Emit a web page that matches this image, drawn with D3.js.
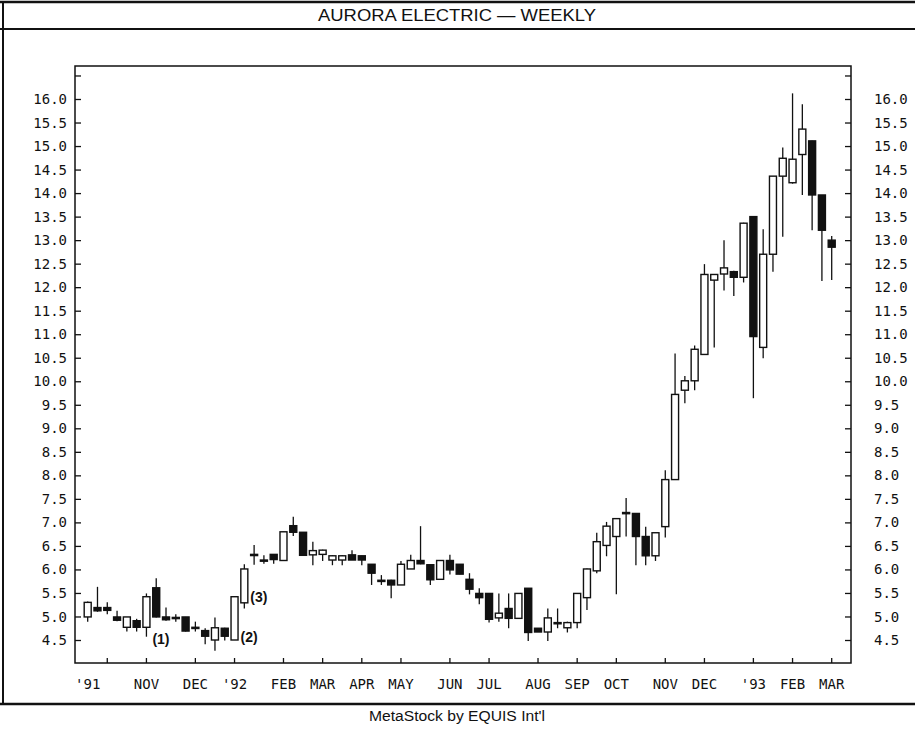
<!DOCTYPE html>
<html>
<head>
<meta charset="utf-8">
<script src="https://cdn.jsdelivr.net/npm/d3@7"></script>
<style>
  html, body { margin: 0; padding: 0; background: #fff; }
  svg { display: block; }
</style>
</head>
<body>
<svg id="chart" width="915" height="730"></svg>
<script>
// ---- DATA ----
const weeks = [
  "1991-09-20","1991-09-27","1991-10-04","1991-10-11","1991-10-18","1991-10-25",
  "1991-11-01","1991-11-08","1991-11-15","1991-11-22","1991-11-29",
  "1991-12-06","1991-12-13","1991-12-20","1991-12-27",
  "1992-01-03","1992-01-10","1992-01-17","1992-01-24","1992-01-31",
  "1992-02-07","1992-02-14","1992-02-21","1992-02-28",
  "1992-03-06","1992-03-13","1992-03-20","1992-03-27",
  "1992-04-03","1992-04-10","1992-04-17","1992-04-24",
  "1992-05-01","1992-05-08","1992-05-15","1992-05-22","1992-05-29",
  "1992-06-05","1992-06-12","1992-06-19","1992-06-26",
  "1992-07-03","1992-07-10","1992-07-17","1992-07-24","1992-07-31",
  "1992-08-07","1992-08-14","1992-08-21","1992-08-28",
  "1992-09-04","1992-09-11","1992-09-18","1992-09-25",
  "1992-10-02","1992-10-09","1992-10-16","1992-10-23","1992-10-30",
  "1992-11-06","1992-11-13","1992-11-20","1992-11-27",
  "1992-12-04","1992-12-11","1992-12-18","1992-12-24","1992-12-31",
  "1993-01-08","1993-01-15","1993-01-22","1993-01-29",
  "1993-02-05","1993-02-12","1993-02-19","1993-02-26",
  "1993-03-05"
];
const open = [
  4.99,5.19,5.19,4.99,4.77,4.91,4.77,5.61,4.99,4.98,4.99,4.77,4.70,4.50,4.75,
  4.50,5.29,6.32,6.20,6.32,6.19,6.93,6.79,6.31,6.32,6.20,6.20,6.31,6.29,6.11,
  5.77,5.77,5.67,6.01,6.19,6.10,5.79,6.19,6.11,5.79,5.49,5.49,4.97,5.17,4.96,
  5.60,4.75,4.67,4.87,4.76,4.87,5.40,5.97,6.51,6.70,7.20,7.19,6.70,6.29,6.91,
  7.91,9.81,10.01,10.57,12.15,12.28,12.33,12.21,13.50,10.72,12.70,14.36,14.22,14.82,15.11,
  13.96,13.00
];
const high = [
  5.32,5.63,5.30,5.12,4.99,4.95,5.49,5.81,5.19,5.05,4.99,4.89,4.75,4.98,4.76,
  5.42,6.11,6.52,6.30,6.32,6.80,7.12,6.79,6.59,6.42,6.30,6.30,6.41,6.29,6.11,
  5.88,5.78,6.18,6.31,6.92,6.10,6.19,6.31,6.11,5.92,5.60,5.49,5.49,5.49,5.49,
  5.60,4.75,5.17,5.17,4.89,5.49,6.02,6.78,7.01,7.09,7.52,7.19,6.91,6.78,8.11,
  10.59,10.11,10.76,12.49,12.28,13.00,12.35,13.37,13.51,13.23,14.36,14.97,16.12,15.89,15.11,
  13.96,13.09
];
const low = [
  4.89,5.10,5.05,4.90,4.68,4.68,4.57,4.98,4.91,4.89,4.68,4.68,4.41,4.27,4.49,
  4.50,5.17,6.10,6.12,6.12,6.19,6.71,6.30,6.09,6.18,6.09,6.09,6.20,6.09,5.67,
  5.67,5.39,5.67,6.01,6.11,5.67,5.79,5.89,5.90,5.47,5.26,4.87,4.89,4.75,4.96,
  4.48,4.67,4.48,4.75,4.66,4.75,5.14,5.92,6.28,5.47,6.70,6.09,6.09,6.18,6.68,
  7.91,9.53,9.81,10.57,10.72,11.93,11.81,12.10,9.64,10.49,12.33,13.07,14.20,13.96,13.21,
  12.13,12.15
];
const close = [
  5.30,5.12,5.13,4.92,4.99,4.77,5.42,4.99,4.93,4.98,4.69,4.77,4.58,4.76,4.58,
  5.42,6.01,6.32,6.20,6.21,6.80,6.79,6.30,6.40,6.41,6.29,6.29,6.20,6.20,5.92,
  5.77,5.67,6.11,6.19,6.12,5.78,6.19,5.99,5.90,5.58,5.40,4.94,5.07,4.96,5.49,
  4.66,4.67,4.97,4.87,4.87,5.49,6.01,6.59,6.92,7.08,7.21,6.70,6.29,6.78,7.91,
  9.72,10.01,10.68,12.27,12.27,12.41,12.21,13.36,10.95,12.70,14.36,14.74,14.72,15.36,13.96,
  13.21,12.85
];
// price axis ticks and labels
const priceTicks = [4.5,5.0,5.5,6.0,6.5,7.0,7.5,8.0,8.5,9.0,9.5,10.0,10.5,11.0,11.5,12.0,12.5,13.0,13.5,14.0,14.5,15.0,15.5,16.0,16.5];
const priceLabels = [4.5,5.0,5.5,6.0,6.5,7.0,7.5,8.0,8.5,9.0,9.5,10.0,10.5,11.0,11.5,12.0,12.5,13.0,13.5,14.0,14.5,15.0,15.5,16.0];
// time axis ticks and labels
const tickWeeks = ["1991-10-04","1991-11-01","1991-12-06","1992-01-03","1992-02-07","1992-03-06","1992-04-03","1992-05-01","1992-06-05","1992-07-03","1992-08-07","1992-09-04","1992-10-02","1992-11-06","1992-12-04","1993-01-08","1993-02-05","1993-03-05"];
const labelWeeks = ["1991-09-20","1991-11-01","1991-12-06","1992-01-03","1992-02-07","1992-03-06","1992-04-03","1992-05-01","1992-06-05","1992-07-03","1992-08-07","1992-09-04","1992-10-02","1992-11-06","1992-12-04","1993-01-08","1993-02-05","1993-03-05"];
const monthLabels = ["'91","NOV","DEC","'92","FEB","MAR","APR","MAY","JUN","JUL","AUG","SEP","OCT","NOV","DEC","'93","FEB","MAR"];
// annotations
const noteWeeks = ["1991-11-01","1992-01-03","1992-01-10"];
const noteTexts = ["(1)","(2)","(3)"];
const notePrices = [4.52, 4.57, 5.41];

const title = "AURORA ELECTRIC \u2014 WEEKLY";
const footer = "MetaStock by EQUIS Int'l";

// ---- LAYOUT ----
const W = 915, H = 730;
const plot = { left: 75, right: 851, top: 66, bottom: 663 };
const svg = d3.select("#chart");
svg.append("rect").attr("width", W).attr("height", H).attr("fill", "#fff");

const x = d3.scaleBand().domain(weeks).range([82.8, 836.6]).padding(0);
const cx = d => x(d) + x.bandwidth() / 2;
const y = d3.scaleLinear().domain([4.5, 16.0]).range([640, 99]);

const ink = "#111";
const mono = "'DejaVu Sans Mono', monospace";
const sans = "'Liberation Sans', Arial, sans-serif";

// outer frame
const frame = svg.append("g").attr("stroke", ink).attr("fill", "none");
frame.append("line").attr("x1", 0).attr("x2", W).attr("y1", 2).attr("y2", 2).attr("stroke-width", 2.5);
frame.append("line").attr("x1", 0).attr("x2", W).attr("y1", 29).attr("y2", 29).attr("stroke-width", 2);
frame.append("line").attr("x1", 3).attr("x2", 3).attr("y1", 2).attr("y2", 704).attr("stroke-width", 2);
frame.append("line").attr("x1", 0).attr("x2", W).attr("y1", 704).attr("y2", 704).attr("stroke-width", 2.5);

svg.append("text").attr("x", 457).attr("y", 21).attr("text-anchor", "middle")
  .attr("font-family", sans).attr("font-size", 16).attr("fill", ink)
  .attr("textLength", 278).attr("lengthAdjust", "spacingAndGlyphs").text(title);
svg.append("text").attr("x", 457).attr("y", 721).attr("text-anchor", "middle")
  .attr("font-family", sans).attr("font-size", 14).attr("fill", ink)
  .attr("textLength", 176).attr("lengthAdjust", "spacingAndGlyphs").text(footer);

// plot frame
svg.append("rect").attr("x", plot.left).attr("y", plot.top)
  .attr("width", plot.right - plot.left).attr("height", plot.bottom - plot.top)
  .attr("fill", "none").attr("stroke", ink).attr("stroke-width", 1.5);

// y axes (left and right) via d3 axis
const leftAxis = d3.axisRight(y).tickValues(priceTicks).tickSize(6).tickFormat("");
svg.append("g").attr("transform", `translate(${plot.left},0)`).call(leftAxis)
  .call(g => g.select(".domain").remove())
  .call(g => g.selectAll("line").attr("stroke", ink).attr("stroke-width", 1.3));
const rightAxis = d3.axisLeft(y).tickValues(priceTicks).tickSize(6).tickFormat("");
svg.append("g").attr("transform", `translate(${plot.right},0)`).call(rightAxis)
  .call(g => g.select(".domain").remove())
  .call(g => g.selectAll("line").attr("stroke", ink).attr("stroke-width", 1.3));

svg.append("g").selectAll("text").data(priceLabels).join("text")
  .attr("x", 67).attr("y", d => y(d)).attr("dy", "0.36em").attr("text-anchor", "end")
  .attr("font-family", mono).attr("font-size", 14).attr("fill", ink)
  .text(d => d.toFixed(1));
svg.append("g").selectAll("text").data(priceLabels).join("text")
  .attr("x", 874).attr("y", d => y(d)).attr("dy", "0.36em").attr("text-anchor", "start")
  .attr("font-family", mono).attr("font-size", 14).attr("fill", ink)
  .text(d => d.toFixed(1));

// x axis ticks
const bottomAxis = d3.axisTop(x).tickValues(tickWeeks).tickSize(5).tickFormat("");
svg.append("g").attr("transform", `translate(0,${plot.bottom})`).call(bottomAxis)
  .call(g => g.select(".domain").remove())
  .call(g => g.selectAll("line").attr("stroke", ink).attr("stroke-width", 1.3));
svg.append("g").selectAll("text").data(labelWeeks).join("text")
  .attr("x", d => cx(d)).attr("y", 689).attr("text-anchor", "middle")
  .attr("font-family", mono).attr("font-size", 14).attr("fill", ink)
  .text((d, i) => monthLabels[i]);

// candles
const bw = 7;
const candles = svg.append("g").selectAll("g").data(weeks).join("g");
candles.append("line")
  .attr("x1", d => cx(d)).attr("x2", d => cx(d))
  .attr("y1", (d, i) => y(high[i])).attr("y2", (d, i) => y(low[i]))
  .attr("stroke", ink).attr("stroke-width", 1.3);
candles.append("rect")
  .attr("x", d => cx(d) - bw / 2).attr("width", bw)
  .attr("y", (d, i) => y(Math.max(open[i], close[i])))
  .attr("height", (d, i) => Math.max(1.2, Math.abs(y(open[i]) - y(close[i]))))
  .attr("fill", (d, i) => close[i] >= open[i] ? "#fff" : ink)
  .attr("stroke", ink).attr("stroke-width", 1.4);

// annotations
svg.append("g").selectAll("text").data(noteWeeks).join("text")
  .attr("x", d => cx(d) + 6).attr("y", (d, i) => y(notePrices[i])).attr("dy", "0.35em")
  .attr("font-family", sans).attr("font-size", 14).attr("font-weight", "bold").attr("fill", ink)
  .text((d, i) => noteTexts[i]);
</script>
</body>
</html>
